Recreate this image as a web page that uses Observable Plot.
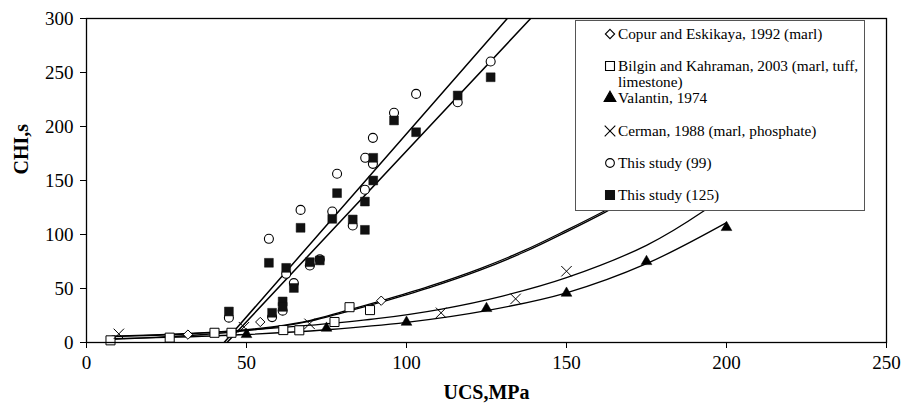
<!DOCTYPE html>
<html><head><meta charset="utf-8">
<script src="https://cdn.jsdelivr.net/npm/d3@7"></script>
<script src="https://cdn.jsdelivr.net/npm/@observablehq/plot@0.6"></script>
<style>
body{margin:0;background:#fff;}
#wrap{position:relative;width:913px;height:408px;overflow:hidden;}
#wrap svg, #wrap text{font-family:'Liberation Serif','Times New Roman',serif;}
#legend{position:absolute;left:575px;top:20px;width:288px;height:189px;border:1px solid #555;background:#fff;}
</style></head><body><div id="wrap"><div id="legend"></div></div>
<script>
// ---- data ----
const xTicks = [0, 50, 100, 150, 200, 250];
const yTicks = [0, 50, 100, 150, 200, 250, 300];

const ucsCopur = [31.7, 54.3, 92.1];
const chiCopur = [7.3, 19.0, 38.7];

const ucsBilgin = [7.5, 26.0, 40.0, 45.3, 61.5, 66.5, 77.5, 82.2, 88.6];
const chiBilgin = [2.0, 4.5, 9.0, 9.0, 11.5, 11.3, 19.0, 32.7, 30.0];

const ucsValantin = [50, 75, 100, 125, 150, 175, 200];
const chiValantin = [7.4, 13.3, 18.8, 31.5, 45.7, 75.0, 106.5];

const ucsCerman = [10.1, 49.2, 69.7, 110.8, 134.1, 150.0];
const chiCerman = [8.0, 14.2, 17.3, 27.5, 40.4, 66.0];

const ucs99 = [44.5, 57.0, 58.0, 61.3, 62.4, 64.8, 66.9, 69.8, 72.9, 76.8, 78.3, 83.2, 87.0, 87.1, 89.5, 89.5, 96.1, 103.0, 116.0, 126.3];
const chi99 = [23.0, 96.0, 23.5, 29.5, 63.6, 55.0, 122.8, 71.3, 77.0, 121.3, 156.2, 108.3, 141.5, 171.0, 165.4, 189.5, 212.7, 230.2, 222.5, 260.2];

const ucs125 = [44.5, 57.0, 58.0, 61.3, 61.3, 62.4, 64.8, 66.9, 69.8, 72.9, 76.8, 78.3, 83.2, 87.0, 87.0, 89.6, 89.6, 96.1, 103.0, 116.0, 126.3];
const chi125 = [28.7, 73.8, 27.5, 38.0, 33.0, 69.1, 50.5, 106.2, 74.4, 76.0, 114.5, 138.3, 113.9, 104.3, 130.5, 150.0, 171.0, 205.6, 194.7, 228.7, 245.6];

// fitted trend lines
const fit99 = [[43.0, 0], [131.5, 300]];
const fit125 = [[43.9, 0], [138.8, 300]];
const copurFit = [[8,5.5],[20,6.5],[32,8],[45,10.5],[58,14.5],[70,20.5],[80,28.5],[92,38.5],[107,52],[123,68.5],[137,85.5],[150,104],[162,122],[180,151]];
const bilginFit = [[8,3],[20,4.5],[32,6.5],[45,9.5],[58,13.8],[70,19.8],[80,27.5],[92,37.3],[107,50.6],[123,67],[137,84],[150,102.5],[162,120.5],[180,149.5]];
const cermanFit = [[8,5.8],[25,7.6],[50,11.5],[70,16],[90,21.8],[111,31],[130,43],[150,60],[175,90],[193,122],[210,160]];
const valantinFit = [[8,3.5],[25,4.7],[50,7.4],[75,11.8],[100,18.6],[125,29.5],[150,46],[175,73],[200,111]];

const legendLabels = [
  ["Copur and Eskikaya, 1992 (marl)"],
  ["Bilgin and Kahraman, 2003 (marl, tuff,", "limestone)"],
  ["Valantin, 1974"],
  ["Cerman, 1988 (marl, phosphate)"],
  ["This study (99)"],
  ["This study (125)"]
];

// ---- chart ----
const FONT = "'Liberation Serif','Times New Roman',serif";
const curveOpt = {x: d => d[0], y: d => d[1], stroke: "#000", strokeWidth: 1.3, curve: "catmull-rom"};
const pts = (xs) => ({length: xs.length});

const chart = Plot.plot({
  width: 913, height: 408,
  marginLeft: 86, marginRight: 27, marginTop: 18, marginBottom: 66,
  x: {domain: [0, 250]},
  y: {domain: [0, 300]},
  style: {fontFamily: FONT, fontSize: "19px", color: "#000", background: "#fff"},
  marks: [
    Plot.axisX({ticks: xTicks, tickSize: 6, tickPadding: 7, label: null, fontSize: 19}),
    Plot.axisY({ticks: yTicks, tickSize: 6, tickPadding: 7, label: null, fontSize: 19}),
    Plot.line(copurFit, curveOpt),
    Plot.line(bilginFit, curveOpt),
    Plot.line(cermanFit, curveOpt),
    Plot.line(valantinFit, curveOpt),
    Plot.line(fit99, {x: d => d[0], y: d => d[1], stroke: "#000", strokeWidth: 1.5, clip: true}),
    Plot.line(fit125, {x: d => d[0], y: d => d[1], stroke: "#000", strokeWidth: 1.5, clip: true}),
    Plot.dot(pts(ucsCopur), {x: ucsCopur, y: chiCopur, symbol: "diamond2", r: 4.2, fill: "#fff", stroke: "#000", strokeWidth: 1}),
    Plot.dot(pts(ucsBilgin), {x: ucsBilgin, y: chiBilgin, symbol: "square", r: 5.1, fill: "#fff", stroke: "#000", strokeWidth: 1}),
    Plot.dot(pts(ucsValantin), {x: ucsValantin, y: chiValantin, symbol: "triangle", r: 4.0, fill: "#000", stroke: "#000", strokeWidth: 0.5}),
    Plot.dot(pts(ucsCerman), {x: ucsCerman, y: chiCerman, symbol: "times", r: 4.8, stroke: "#000", strokeWidth: 1}),
    Plot.dot(pts(ucs99), {x: ucs99, y: chi99, symbol: "circle", r: 4.5, fill: "#fff", stroke: "#000", strokeWidth: 1.1}),
    Plot.dot(pts(ucs125), {x: ucs125, y: chi125, symbol: "square", r: 5.0, fill: "#111", stroke: "#111", strokeWidth: 0.5}),
    Plot.frame({stroke: "#000", strokeWidth: 1.3}),
    Plot.text(["UCS,MPa"], {frameAnchor: "bottom", dy: 50, fontWeight: "bold", fontSize: 20, fontFamily: FONT, fill: "#000", lineAnchor: "middle"}),
    Plot.text(["CHI,s"], {frameAnchor: "left", dx: -65, dy: -6, rotate: -90, fontWeight: "bold", fontSize: 20, fontFamily: FONT, fill: "#000", lineAnchor: "middle"})
  ]
});
const wrap = document.getElementById("wrap");
wrap.insertBefore(chart, wrap.firstChild);

// ---- legend (overlay box, like the original) ----
const lg = d3.select("#legend").append("svg").attr("width", 288).attr("height", 189)
  .style("font-family", FONT).style("font-size", "15.3px");
const baselines = [18, 50, 66, 82, 115, 147, 179];
const rows = [0, 1, 3, 4, 5, 6];
const symDefs = [
  {t: d3.symbolDiamond2, s: 55, fill: "#fff", stroke: "#000"},
  {t: d3.symbolSquare, s: 80, fill: "#fff", stroke: "#000"},
  {t: d3.symbolTriangle, s: 60, fill: "#000", stroke: "#000"},
  {t: d3.symbolTimes, s: 75, fill: "none", stroke: "#000"},
  {t: d3.symbolCircle, s: 60, fill: "#fff", stroke: "#000"},
  {t: d3.symbolSquare, s: 80, fill: "#111", stroke: "#111"}
];
legendLabels.forEach((lines, i) => {
  const y = baselines[rows[i]];
  const sd = symDefs[i];
  lg.append("path").attr("d", d3.symbol(sd.t, sd.s)())
    .attr("transform", `translate(34,${y - 5})`)
    .attr("fill", sd.fill).attr("stroke", sd.stroke).attr("stroke-width", 1.1);
  const t = lg.append("text").attr("x", 42).attr("y", y).attr("fill", "#000");
  lines.forEach((ln, j) => t.append("tspan").attr("x", 42).attr("dy", j === 0 ? 0 : 16).text(ln));
});
</script></body></html>
